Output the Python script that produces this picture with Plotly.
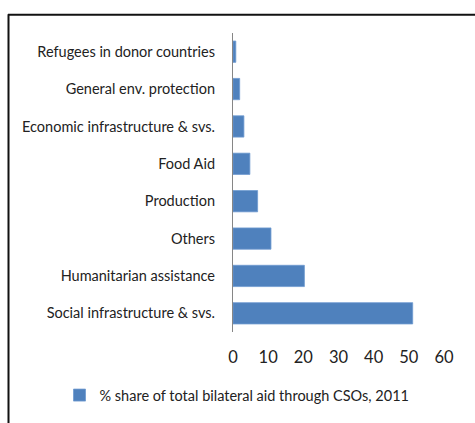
import plotly.graph_objects as go

categories = [
    "Social infrastructure & svs.",
    "Humanitarian assistance",
    "Others",
    "Production",
    "Food Aid",
    "Economic infrastructure & svs.",
    "General env. protection",
    "Refugees in donor countries",
]
values = [51.1, 20.3, 10.8, 7.0, 4.8, 3.1, 1.9, 0.8]
x_ticks = [0, 10, 20, 30, 40, 50, 60]
series_name = "% share of total bilateral aid through CSOs, 2011"

W, H = 475, 423
L, R, T, B = 233, 444, 33, 336

fig = go.Figure()
fig.add_trace(go.Bar(
    y=categories, x=values, orientation="h", name=series_name,
    marker=dict(color="#4F81BD", line=dict(color="#6F9BD0", width=0.8)),
    width=0.57, showlegend=True,
))

def px2x(p):
    return (p - L) / (R - L)

def py2y(p):
    return (B - p) / (B - T)

fig.update_layout(
    width=W, height=H,
    margin=dict(l=L, r=W - R, t=T, b=H - B, pad=0),
    paper_bgcolor="white", plot_bgcolor="white",
    font=dict(family="Lato, Carlito, Calibri, sans-serif", size=14.5, color="#222"),
    bargap=0.43,
    xaxis=dict(range=[0, 60], tickvals=x_ticks, showgrid=False, zeroline=False,
               showline=False, tickfont=dict(size=16.5, color="#222"),
               ticks="outside", ticklen=10, tickcolor="rgba(0,0,0,0)", fixedrange=True),
    yaxis=dict(categoryorder="array", categoryarray=categories, range=[-0.5, 7.5],
               showgrid=False, zeroline=False, showline=True, linecolor="#868686",
               linewidth=1.2, ticks="outside", ticklen=14, tickcolor="rgba(0,0,0,0)",
               tickfont=dict(size=14.5, color="#222"), fixedrange=True),
    legend=dict(orientation="h", x=px2x(237), xanchor="center", y=py2y(400),
                yanchor="middle", font=dict(size=14.5, color="#222"),
                itemwidth=30, bgcolor="rgba(0,0,0,0)"),
    shapes=[
        dict(type="line", xref="paper", yref="paper", x0=px2x(8), x1=px2x(480),
             y0=py2y(14.5), y1=py2y(14.5), line=dict(color="#111", width=2)),
        dict(type="line", xref="paper", yref="paper", x0=px2x(8.5), x1=px2x(8.5),
             y0=py2y(14), y1=py2y(430), line=dict(color="#111", width=2)),
    ],
)

fig.write_html("out.html")
